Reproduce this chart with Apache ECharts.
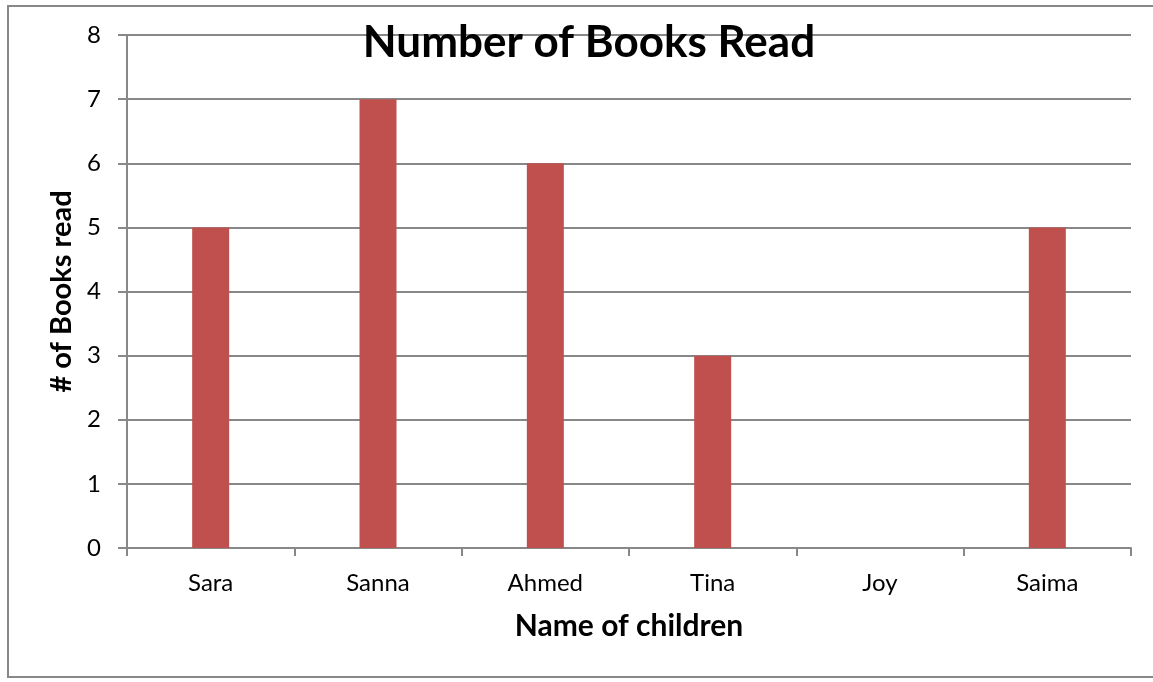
<!DOCTYPE html>
<html>
<head>
<meta charset="utf-8">
<script src="https://cdn.jsdelivr.net/npm/echarts@6/dist/echarts.min.js"></script>
<style>html,body{margin:0;padding:0;background:#fff;}#c{width:1153px;height:682px;}</style>
</head>
<body>
<div id="c"></div>
<script>
const categories = ['Sara', 'Sanna', 'Ahmed', 'Tina', 'Joy', 'Saima'];
const booksRead = [5, 7, 6, 3, 0, 5];
const yTicks = [0, 1, 2, 3, 4, 5, 6, 7, 8];

const FONT = 'Lato, "Open Sans", sans-serif';
const chart = echarts.init(document.getElementById('c'), null, {renderer: 'canvas'});
chart.setOption({
  backgroundColor: '#fff',
  animation: false,
  title: {
    text: 'Number of Books Read',
    left: 584, top: 16, textAlign: 'center',
    textStyle: {fontFamily: FONT, fontSize: 44, fontWeight: 'bold', color: '#000'}
  },
  graphic: [{
    type: 'rect', shape: {x: 8, y: 6, width: 1160, height: 671},
    style: {fill: 'none', stroke: '#888', lineWidth: 2}, z: -1
  }],
  grid: {left: 127, right: 22, top: 35, bottom: 134, containLabel: false},
  xAxis: {
    type: 'category', data: categories,
    name: 'Name of children', nameLocation: 'middle', nameGap: 63,
    nameTextStyle: {fontFamily: FONT, fontSize: 30, fontWeight: 'bold', color: '#000'},
    axisLine: {lineStyle: {color: '#888', width: 2}},
    axisTick: {show: true, length: 8, alignWithLabel: false, lineStyle: {color: '#888', width: 2}},
    axisLabel: {fontFamily: FONT, fontSize: 24, color: '#000', margin: 23}
  },
  yAxis: {
    type: 'value', min: 0, max: 8, interval: 1,
    name: '# of Books read', nameLocation: 'middle', nameGap: 50, nameRotate: 90,
    nameTextStyle: {fontFamily: FONT, fontSize: 29, fontWeight: 'bold', color: '#000'},
    axisLine: {show: true, lineStyle: {color: '#888', width: 2}},
    axisTick: {show: true, length: 9, lineStyle: {color: '#888', width: 2}},
    axisLabel: {fontFamily: FONT, fontSize: 24, color: '#000', margin: 26,
      formatter: v => yTicks.includes(v) ? String(v) : ''},
    splitLine: {show: true, lineStyle: {color: '#888', width: 2}}
  },
  series: [{
    type: 'bar', data: booksRead, barWidth: 37,
    itemStyle: {color: '#c0504d'}
  }]
});
</script>
</body>
</html>
